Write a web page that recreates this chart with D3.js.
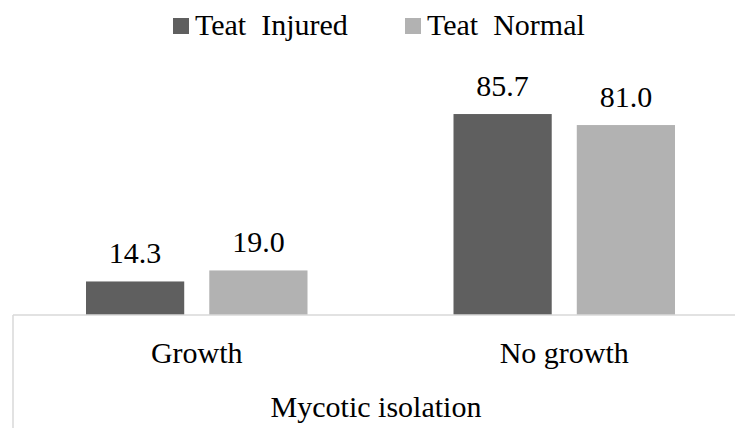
<!DOCTYPE html>
<html>
<head>
<meta charset="utf-8">
<script src="https://cdn.jsdelivr.net/npm/d3@7"></script>
</head>
<body style="margin:0">
<svg id="chart" width="735" height="428"></svg>
<script>
const categories = ["Growth", "No growth"];
const seriesNames = ["Teat\u00a0 Injured", "Teat\u00a0 Normal"];
const injured = [14.3, 85.7];
const normal = [19.0, 81.0];
const axisTitle = "Mycotic isolation";
const colors = ["#5f5f5f", "#b2b2b2"];

const svg = d3.select("#chart");
const baseY = 315;
const x0 = d3.scaleBand().domain(categories).range([13, 748]).paddingInner(0).paddingOuter(0);
const bw = x0.bandwidth();
const x1 = d3.scaleBand().domain(seriesNames).range([73, bw - 73]).paddingInner(25 / 123).paddingOuter(0);
const y = d3.scaleLinear().domain([0, 100]).range([baseY, 80.5]);

const data = categories.map((c, i) => ({cat: c, vals: [injured[i], normal[i]]}));

function addText(x, yy, s, anchor) {
  return svg.append("text")
    .attr("x", x).attr("y", yy)
    .style("font", "30px serif")
    .attr("text-anchor", anchor)
    .text(s);
}

data.forEach(d => {
  d.vals.forEach((v, j) => {
    const bx = x0(d.cat) + x1(seriesNames[j]);
    svg.append("rect")
      .attr("x", bx).attr("y", y(v))
      .attr("width", x1.bandwidth()).attr("height", y(0) - y(v))
      .attr("fill", colors[j]);
    addText(bx + x1.bandwidth() / 2, y(v) - 18.5, v.toFixed(1), "middle");
  });
});

svg.append("line").attr("x1", 13).attr("x2", 735).attr("y1", baseY).attr("y2", baseY)
  .attr("stroke", "#d9d9d9").attr("stroke-width", 1.5);
svg.append("line").attr("x1", 13).attr("x2", 13).attr("y1", baseY).attr("y2", 428)
  .attr("stroke", "#d9d9d9").attr("stroke-width", 1.5);

categories.forEach(c => addText(x0(c) + bw / 2, 363, c, "middle"));
addText(376, 417, axisTitle, "middle");

const legX = [173, 405];
seriesNames.forEach((s, j) => {
  svg.append("rect").attr("x", legX[j]).attr("y", 18).attr("width", 16).attr("height", 16).attr("fill", colors[j]);
  addText(legX[j] + 22, 35, s, "start");
});
</script>
</body>
</html>
